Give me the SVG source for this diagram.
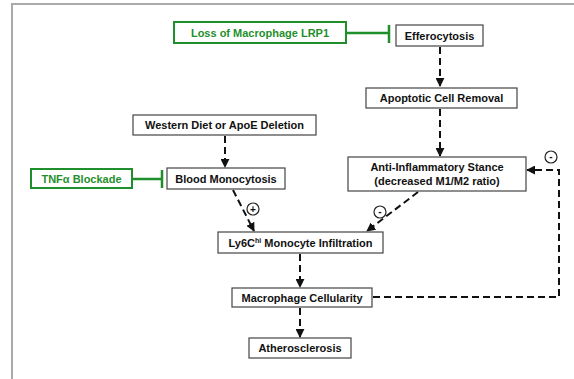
<svg xmlns="http://www.w3.org/2000/svg" width="574" height="379" viewBox="0 0 574 379">
<style>
.box{fill:#fff;stroke:#444;stroke-width:1.2}
.gbox{fill:#fff;stroke:#1f8f2c;stroke-width:2}
.t{font-family:"Liberation Sans",Arial,sans-serif;font-weight:bold;font-size:11px;fill:#111;text-anchor:middle}
.gt{font-family:"Liberation Sans",Arial,sans-serif;font-weight:bold;font-size:11px;fill:#1f8f2c;text-anchor:middle}
.d{fill:none;stroke:#111;stroke-width:2;stroke-dasharray:7,4}
.g{fill:none;stroke:#1f8f2c;stroke-width:2.5}
.c{fill:#fff;stroke:#222;stroke-width:1.2}
.s{font-family:"Liberation Sans",Arial,sans-serif;font-weight:bold;font-size:10px;fill:#111;text-anchor:middle}
</style>
<defs>
<marker id="ah" viewBox="0 0 10 10" refX="9" refY="5" markerWidth="4.5" markerHeight="4.5" orient="auto" markerUnits="strokeWidth">
<path d="M0,0 L10,5 L0,10 z" fill="#111"/>
</marker>
</defs>
<rect x="0" y="0" width="574" height="379" fill="#fff"/>
<rect x="12" y="4" width="620" height="420" fill="none" stroke="#aaa" stroke-width="2"/>
<g id="connectors">
<path class="g" d="M346,33 H389 M389,25 V43"/>
<path class="g" d="M132,179 H162 M162,170 V188"/>
<path class="d" d="M440,47 V86" marker-end="url(#ah)"/>
<path class="d" d="M440,109 V156" marker-end="url(#ah)"/>
<path class="d" d="M225,136 V167" marker-end="url(#ah)"/>
<path class="d" d="M233,190 L254,231" marker-end="url(#ah)"/>
<path class="d" d="M418,192 L367,231" marker-end="url(#ah)"/>
<path class="d" d="M300,254 V287" marker-end="url(#ah)"/>
<path class="d" d="M300,308 V337" marker-end="url(#ah)"/>
<path class="d" d="M373,297 H559 V170 H527" marker-end="url(#ah)"/>
</g>
<g id="plus1"><circle class="c" cx="253" cy="209" r="6"/><text class="s" x="253" y="213">+</text></g>
<g id="minus1"><circle class="c" cx="380" cy="212" r="6"/><text class="s" x="380" y="215">-</text></g>
<g id="minus2"><circle class="c" cx="551" cy="157" r="6"/><text class="s" x="551" y="160">-</text></g>
<g id="lrp1"><rect class="gbox" x="174" y="22" width="172" height="21"/><text class="gt" x="260" y="36.5">Loss of Macrophage LRP1</text></g>
<g id="effero"><rect class="box" x="396" y="25" width="87" height="21"/><text class="t" x="439.5" y="39.5">Efferocytosis</text></g>
<g id="apoptotic"><rect class="box" x="366" y="88" width="151" height="20"/><text class="t" x="441.5" y="102">Apoptotic Cell Removal</text></g>
<g id="antiinfl"><rect class="box" x="348" y="157" width="178" height="34"/><text class="t" x="437" y="171">Anti-Inflammatory Stance</text><text class="t" x="437" y="185">(decreased M1/M2 ratio)</text></g>
<g id="western"><rect class="box" x="133" y="115" width="183" height="20"/><text class="t" x="224.5" y="129">Western Diet or ApoE Deletion</text></g>
<g id="tnfa"><rect class="gbox" x="31" y="169" width="101" height="19"/><text class="gt" x="81.5" y="182.5">TNFα Blockade</text></g>
<g id="bloodmono"><rect class="box" x="167" y="168" width="118" height="21"/><text class="t" x="226" y="182.5">Blood Monocytosis</text></g>
<g id="ly6c"><rect class="box" x="218" y="232" width="165" height="21"/><text class="t" x="300.5" y="246.5">Ly6C<tspan font-size="7" dy="-4" fill="#111">hi</tspan><tspan dy="4"> Monocyte Infiltration</tspan></text></g>
<g id="macro"><rect class="box" x="232" y="288" width="140" height="19"/><text class="t" x="302" y="301.5">Macrophage Cellularity</text></g>
<g id="athero"><rect class="box" x="249" y="338" width="102" height="20"/><text class="t" x="300" y="352">Atherosclerosis</text></g>
</svg>
